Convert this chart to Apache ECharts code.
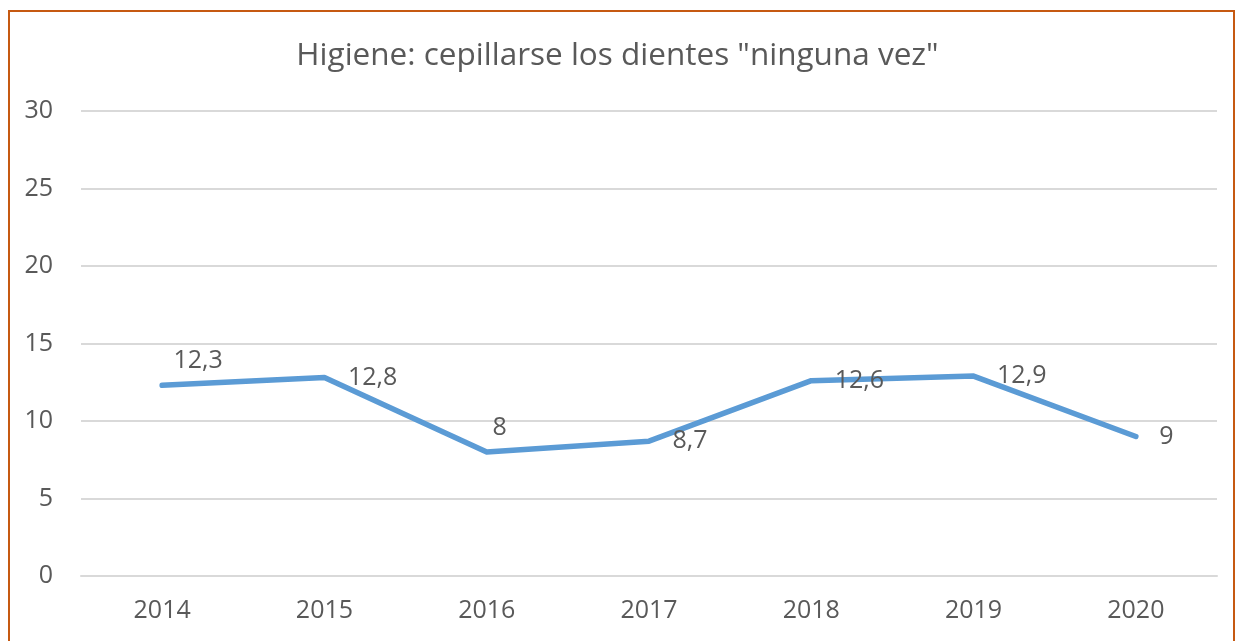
<!DOCTYPE html>
<html>
<head>
<meta charset="utf-8">
<script src="https://cdn.jsdelivr.net/npm/echarts@6/dist/echarts.min.js"></script>
<style>
  html, body { margin: 0; padding: 0; background: #fff; }
  #frame { position: absolute; left: 8px; top: 10px; width: 1223px; height: 700px;
           border: 2px solid #c65911; border-bottom: none; }
  #chart { position: absolute; left: 0; top: 0; width: 1235px; height: 641px; }
</style>
</head>
<body>
<div id="frame"></div>
<div id="chart"></div>
<script>
  var titleText = 'Higiene: cepillarse los dientes "ninguna vez"';
  var years = ['2014', '2015', '2016', '2017', '2018', '2019', '2020'];
  var values = [12.3, 12.8, 8, 8.7, 12.6, 12.9, 9];
  var yTicks = [0, 5, 10, 15, 20, 25, 30];

  var textColor = '#595959';
  var font = '"Open Sans", sans-serif';

  // Excel puts most labels to the right, two of them above
  var labelAt = {
    0: { position: 'top', distance: 11, offset: [36, 0] },
    2: { position: 'top', distance: 11, offset: [13, 0] }
  };

  var seriesData = values.map(function (v, i) {
    var item = { value: v };
    if (labelAt[i]) item.label = labelAt[i];
    return item;
  });

  var chart = echarts.init(document.getElementById('chart'));
  chart.setOption({
    animation: false,
    title: {
      text: titleText,
      left: 'center',
      top: 35,
      textStyle: { color: textColor, fontFamily: font, fontWeight: 'normal', fontSize: 31.5 }
    },
    grid: { left: 81, right: 18, top: 111, bottom: 65 },
    xAxis: {
      type: 'category',
      data: years,
      boundaryGap: true,
      axisLine: { lineStyle: { color: '#d9d9d9', width: 2 } },
      axisTick: { show: false },
      axisLabel: { color: textColor, fontFamily: font, fontSize: 25, margin: 22 }
    },
    yAxis: {
      type: 'value',
      min: yTicks[0],
      max: yTicks[yTicks.length - 1],
      interval: 5,
      axisLine: { show: false },
      axisTick: { show: false },
      axisLabel: { color: textColor, fontFamily: font, fontSize: 25, margin: 28 },
      splitLine: { lineStyle: { color: '#d9d9d9', width: 2 } }
    },
    series: [{
      type: 'line',
      data: seriesData,
      symbol: 'circle',
      symbolSize: 1,
      showSymbol: true,
      itemStyle: { color: 'rgba(0,0,0,0)' },
      lineStyle: { color: '#5b9bd5', width: 5.5, cap: 'round', join: 'round' },
      label: {
        show: true,
        position: 'right',
        distance: 23,
        color: textColor,
        fontFamily: font,
        fontSize: 25,
        formatter: function (p) { return String(p.value).replace('.', ','); }
      }
    }]
  });
</script>
</body>
</html>
